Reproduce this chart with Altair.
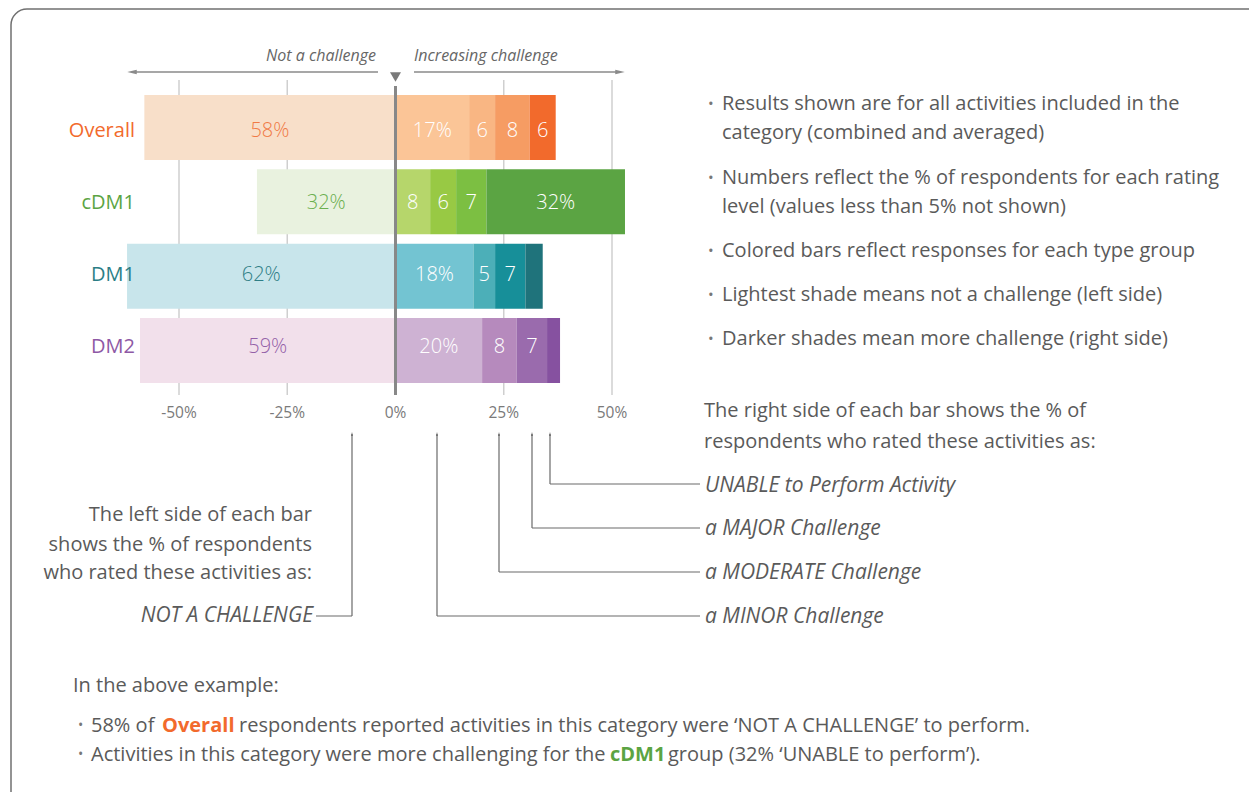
import altair as alt
import pandas as pd

# ---------------- data ----------------
groups = ["Overall", "cDM1", "DM1", "DM2"]
not_challenge = [58, 32, 62, 59]
minor = [17, 8, 18, 20]
moderate = [6, 6, 5, 8]
major = [8, 7, 7, 7]
unable = [6, 32, 4, 3]
levels = ["Not a challenge", "Minor", "Moderate", "Major", "Unable"]

group_colors = ["#F26A2C", "#5BA443", "#2B7E86", "#8E58A5"]
shades = [
    ["#F8DFC9", "#FBC597", "#F9B683", "#F69C63", "#F26A2C"],
    ["#E9F2DF", "#B6D66B", "#98C944", "#7CBF42", "#5BA443"],
    ["#C8E5EB", "#73C4D2", "#4CAFB8", "#178F99", "#1F737B"],
    ["#F2E0EB", "#CEB2D3", "#B68ABD", "#9A6BAD", "#8651A0"],
]
left_text_colors = ["#F07A45", "#6BAF4F", "#2E7E86", "#9460A8"]

tick_values = [-50, -25, 0, 25, 50]
tick_labels = ["-50%", "-25%", "0%", "25%", "50%"]

right_bullets = [
    "Results shown are for all activities included in the",
    "category (combined and averaged)",
    "Numbers reflect the % of respondents for each rating",
    "level (values less than 5% not shown)",
    "Colored bars reflect responses for each type group",
    "Lightest shade means not a challenge (left side)",
    "Darker shades mean more challenge (right side)",
]
right_bullet_y = [96, 125, 170, 199, 243, 287, 331]
right_bullet_dot = [True, False, True, False, True, True, True]

right_intro = ["The right side of each bar shows the % of",
               "respondents who rated these activities as:"]
left_intro = ["The left side of each bar",
              "shows the % of respondents",
              "who rated these activities as:"]
level_notes = ["UNABLE to Perform Activity", "a MAJOR Challenge",
               "a MODERATE Challenge", "a MINOR Challenge"]

# ---------------- build tables ----------------
rows = []
for i, g in enumerate(groups):
    vals = [not_challenge[i], minor[i], moderate[i], major[i], unable[i]]
    start = 0
    for j, v in enumerate(vals):
        if j == 0:
            x, x2 = -v, 0
            txt = f"{v}%"
            tcol = left_text_colors[i]
        else:
            x, x2 = start, start + v
            start += v
            txt = f"{v}%" if v >= 10 else (str(v) if v >= 5 else "")
            tcol = "#FFFFFF"
        rows.append(dict(group=g, level=levels[j], x=x, x2=x2, mid=(x + x2) / 2,
                         color=shades[i][j], label=txt, tcolor=tcol))
bars = pd.DataFrame(rows)

PX = 4.33
ZERO = 387.5
W, H = 1241, 784
XS = alt.Scale(domain=[-ZERO / PX, (W - ZERO) / PX], nice=False, zero=False)
YS = alt.Scale(domain=groups, range=[87, 375], paddingInner=0.125, paddingOuter=0)

FONT = "Open Sans"
GRAY = "#5a5a5a"
BODY = 20
NOTE = 21
BOT = 20

layers = []

# frame
layers.append(alt.Chart(pd.DataFrame({"a": [0]})).mark_rect(
    fillOpacity=0, stroke="#707070", strokeWidth=1.5, cornerRadius=16
).encode(x=alt.value(3), x2=alt.value(1262), y=alt.value(1), y2=alt.value(800)))

# gridlines
grid = pd.DataFrame({"v": [t for t in tick_values if t != 0]})
layers.append(alt.Chart(grid).mark_rule(color="#cfcfcf", strokeWidth=1.5).encode(
    x=alt.X("v:Q", scale=XS, axis=None), y=alt.value(72), y2=alt.value(387)))

# bars
layers.append(alt.Chart(bars).mark_bar().encode(
    x=alt.X("x:Q", scale=XS, axis=None), x2="x2:Q",
    y=alt.Y("group:N", scale=YS, axis=None),
    color=alt.Color("color:N", scale=None)))

# bar labels
layers.append(alt.Chart(bars).mark_text(font=FONT, fontSize=20, fontWeight=300).encode(
    x=alt.X("mid:Q", scale=XS, axis=None),
    y=alt.Y("group:N", scale=YS, axis=None),
    text="label:N", color=alt.Color("tcolor:N", scale=None)))

# zero line
layers.append(alt.Chart(pd.DataFrame({"v": [0]})).mark_rule(color="#888888", strokeWidth=3).encode(
    x=alt.X("v:Q", scale=XS, axis=None), y=alt.value(78), y2=alt.value(387)))

# down triangle at zero
layers.append(alt.Chart(pd.DataFrame({"v": [0]})).mark_point(
    shape="triangle-down", filled=True, size=120, color="#7a7a7a", opacity=1).encode(
    x=alt.X("v:Q", scale=XS, axis=None), y=alt.value(69)))

# tick labels
ticks_df = pd.DataFrame({"v": tick_values, "t": tick_labels})
layers.append(alt.Chart(ticks_df).mark_text(font=FONT, fontSize=15.5, color="#7a7a7a").encode(
    x=alt.X("v:Q", scale=XS, axis=None), y=alt.value(405), text="t:N"))

# group labels
glab = pd.DataFrame({"group": groups, "c": group_colors})
layers.append(alt.Chart(glab).mark_text(font=FONT, fontSize=20, align="right").encode(
    x=alt.value(127), y=alt.Y("group:N", scale=YS, axis=None), text="group:N",
    color=alt.Color("c:N", scale=None)))


def text_layer(xs, ys, texts, **kw):
    df = pd.DataFrame({"px": xs, "py": ys, "t": texts})
    return alt.Chart(df).mark_text(baseline="middle", **kw).encode(
        x=alt.X("px:Q", scale=None), y=alt.Y("py:Q", scale=None), text="t:N")


def seg_layer(x, x2, y, y2, **kw):
    df = pd.DataFrame({"x": x, "x2": x2, "y": y, "y2": y2})
    return alt.Chart(df).mark_rule(**kw).encode(
        x=alt.X("x:Q", scale=None), x2="x2:Q",
        y=alt.Y("y:Q", scale=None), y2="y2:Q")


# header texts
layers.append(text_layer([368], [48], ["Not a challenge"], font=FONT, fontSize=16,
                         fontStyle="italic", color="#666666", align="right"))
layers.append(text_layer([406], [48], ["Increasing challenge"], font=FONT, fontSize=16,
                         fontStyle="italic", color="#666666", align="left"))
layers.append(seg_layer([124, 406], [370, 612], [64, 64], [64, 64], color="#8a8a8a", strokeWidth=1.5))
arrow_df = pd.DataFrame({"px": [124, 612], "py": [64, 64], "s": ["left", "right"]})
layers.append(alt.Chart(arrow_df).mark_point(filled=True, size=90, color="#8a8a8a", opacity=1).encode(
    x=alt.X("px:Q", scale=None), y=alt.Y("py:Q", scale=None),
    shape=alt.Shape("s:N", scale=alt.Scale(domain=["left", "right"],
                                           range=["M1,-0.5L-1,0L1,0.5Z", "M-1,-0.5L1,0L-1,0.5Z"]),
                    legend=None)))

# right bullets
bx = [700 for d in right_bullet_dot if d]
by = [y for y, d in zip(right_bullet_y, right_bullet_dot) if d]
layers.append(text_layer(bx, by, ["•"] * len(bx), font=FONT, fontSize=15, color="#777777", align="left"))
layers.append(text_layer([714] * len(right_bullets), right_bullet_y, right_bullets,
                         font=FONT, fontSize=BODY, color=GRAY, align="left"))

# side intros
layers.append(text_layer([696, 696], [403, 434], right_intro, font=FONT, fontSize=BODY,
                         color=GRAY, align="left"))
layers.append(text_layer([304, 304, 304], [507, 537, 565], left_intro, font=FONT, fontSize=BODY,
                         color=GRAY, align="right"))

# level notes
layers.append(text_layer([305], [608], ["NOT A CHALLENGE"], font=FONT, fontSize=NOTE,
                         fontStyle="italic", color=GRAY, align="right"))
layers.append(text_layer([697] * 4, [478, 521, 565, 609], level_notes, font=FONT, fontSize=NOTE,
                         fontStyle="italic", color=GRAY, align="left"))

# connectors
cx = [344, 429, 491, 524, 542]
cy_end = [608, 608, 564, 520, 476]
layers.append(seg_layer(cx, cx, [426] * 5, cy_end, color="#6a6a6a", strokeWidth=1.2))
layers.append(seg_layer([308, 429, 491, 524, 542], [344, 692, 692, 692, 692],
                        [608, 608, 564, 520, 476], [608, 608, 564, 520, 476],
                        color="#6a6a6a", strokeWidth=1.2))
tip_df = pd.DataFrame({"px": cx, "py": [426] * 5})
layers.append(alt.Chart(tip_df).mark_point(filled=True, size=18, color="#6a6a6a", opacity=1,
                                           shape="M0,-1L0.45,1L-0.45,1Z").encode(
    x=alt.X("px:Q", scale=None), y=alt.Y("py:Q", scale=None)))

# bottom example
layers.append(text_layer([65], [678], ["In the above example:"], font=FONT, fontSize=BOT,
                         color=GRAY, align="left"))
layers.append(text_layer([70, 70], [718, 747], ["•", "•"], font=FONT, fontSize=14,
                         color="#777777", align="left"))
layers.append(text_layer([83, 231], [718, 718],
                         ["58% of", "respondents reported activities in this category were ‘NOT A CHALLENGE’ to perform."],
                         font=FONT, fontSize=BOT, color=GRAY, align="left"))
layers.append(text_layer([154], [718], ["Overall"], font=FONT, fontSize=BOT, fontWeight="bold",
                         color="#F26A2C", align="left"))
layers.append(text_layer([83, 660], [747, 747],
                         ["Activities in this category were more challenging for the",
                          "group (32% ‘UNABLE to perform’)."],
                         font=FONT, fontSize=BOT, color=GRAY, align="left"))
layers.append(text_layer([602], [747], ["cDM1"], font=FONT, fontSize=BOT, fontWeight="bold",
                         color="#5BA443", align="left"))

chart = alt.layer(*layers).resolve_scale(
    x="independent", y="independent", color="independent", shape="independent"
).properties(
    width=W, height=H, padding=0, autosize=alt.AutoSizeParams(type="none"),
    background="white"
).configure_view(stroke=None)

chart.save("out.html", embed_options={"renderer": "svg", "actions": False})
